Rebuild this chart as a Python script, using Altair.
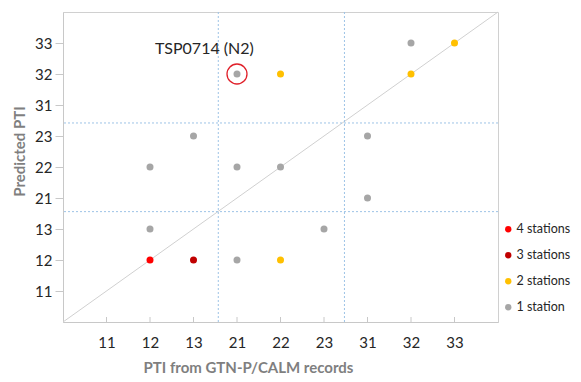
import json
import altair as alt
import pandas as pd

# ---- data ----
categories = ["11", "12", "13", "21", "22", "23", "31", "32", "33"]
observed = [12, 13, 21, 22, 12, 23, 31, 12, 21, 22, 13, 31, 21, 22, 32, 32, 33]
predicted = [12, 12, 12, 12, 13, 13, 21, 22, 22, 22, 23, 23, 32, 32, 32, 33, 33]
stations = [4, 3, 1, 2, 1, 1, 1, 1, 1, 1, 1, 1, 1, 2, 2, 1, 2]
legend_labels = ["4 stations", "3 stations", "2 stations", "1 station"]
legend_colors = ["#ff0000", "#c00000", "#ffc000", "#a6a6a6"]
highlight_obs, highlight_pred = "21", "32"
highlight_label = "TSP0714 (N2)"
break_x = [3.57, 6.47]
break_y = [3.56, 6.42]

idx = {c: i + 1 for i, c in enumerate(categories)}
n_cat = len(categories)

df = pd.DataFrame({
    "x": [idx[str(o)] for o in observed],
    "y": [idx[str(p)] for p in predicted],
    "label": ["1 station" if n == 1 else f"{n} stations" for n in stations],
})
diag = pd.DataFrame({"x": [0, n_cat + 1], "y": [0, n_cat + 1]})
vr = pd.DataFrame({"x": break_x})
hr = pd.DataFrame({"y": break_y})
ticks = pd.DataFrame({"x": list(range(1, n_cat + 1))})
hl = pd.DataFrame({"x": [idx[highlight_obs]], "y": [idx[highlight_pred]]})
ann = pd.DataFrame({"x": [idx[highlight_obs] - 0.75], "y": [idx[highlight_pred] + 0.8], "t": [highlight_label]})

W, H = 435, 310
FONT = "Lato"
label_expr = json.dumps(categories) + "[datum.value - 1]"
xscale = alt.Scale(domain=[0, n_cat + 1], nice=False, zero=False)
yscale = alt.Scale(domain=[0, n_cat + 1], nice=False, zero=False)

xaxis = alt.Axis(values=list(range(1, n_cat + 1)), labelExpr=label_expr, grid=False,
                 ticks=False, labelPadding=13, labelFontSize=15, labelColor="#262626",
                 domainColor="#c8c8c8", title="PTI from GTN-P/CALM records",
                 titleFontSize=15, titleFontWeight="bold", titleColor="#7f7f7f",
                 titleX=185, titleY=45, titleBaseline="middle", titleAlign="center")
yaxis = alt.Axis(values=list(range(1, n_cat + 1)), labelExpr=label_expr, grid=False,
                 ticks=True, tickSize=8, tickColor="#c8c8c8", labelPadding=3,
                 labelFontSize=15, labelColor="#262626", domainColor="#c8c8c8",
                 title="Predicted PTI", titleFontSize=15, titleFontWeight="bold",
                 titleColor="#7f7f7f", titleX=-44, titleY=139, titleBaseline="middle",
                 titleAlign="center", titleAngle=270)

X = alt.X("x:Q", scale=xscale, axis=xaxis)
Y = alt.Y("y:Q", scale=yscale, axis=yaxis)

diag_l = alt.Chart(diag).mark_line(color="#d0d0d0", strokeWidth=1).encode(x=X, y=Y)
vr_l = alt.Chart(vr).mark_rule(color="#9dc3e6", strokeDash=[2, 2], strokeWidth=1).encode(x=X)
hr_l = alt.Chart(hr).mark_rule(color="#9dc3e6", strokeDash=[2, 2], strokeWidth=1).encode(y=Y)
tick_l = alt.Chart(ticks).mark_rule(color="#c8c8c8", strokeWidth=1).encode(
    x=X, y=alt.value(H), y2=alt.value(H - 5))
pts = alt.Chart(df).mark_circle(size=49, opacity=1).encode(
    x=X, y=Y,
    color=alt.Color("label:N", scale=alt.Scale(domain=legend_labels, range=legend_colors),
                    legend=alt.Legend(title=None, orient="none", legendX=439, legendY=211,
                                      symbolType="circle", symbolSize=40, labelFontSize=12.5,
                                      labelColor="#262626", rowPadding=13, labelOffset=2,
                                      symbolStrokeWidth=0)),
)
ring = alt.Chart(hl).mark_point(shape="circle", filled=False, size=400, color="#e0202a",
                                strokeWidth=1.3, opacity=1).encode(x=X, y=Y)
txt = alt.Chart(ann).mark_text(fontSize=16, color="#262626", align="center",
                               baseline="middle").encode(x=X, y=Y, text="t:N")

chart = alt.layer(diag_l, vr_l, hr_l, tick_l, pts, ring, txt).properties(
    width=W, height=H,
    autosize=alt.AutoSizeParams(type="none"),
    padding={"left": 55, "top": 4, "right": 75, "bottom": 52},
).configure(font=FONT).configure_view(stroke="#d0d0d0", strokeWidth=1)

chart.save("out.html", embed_options={"renderer": "svg", "actions": False})
